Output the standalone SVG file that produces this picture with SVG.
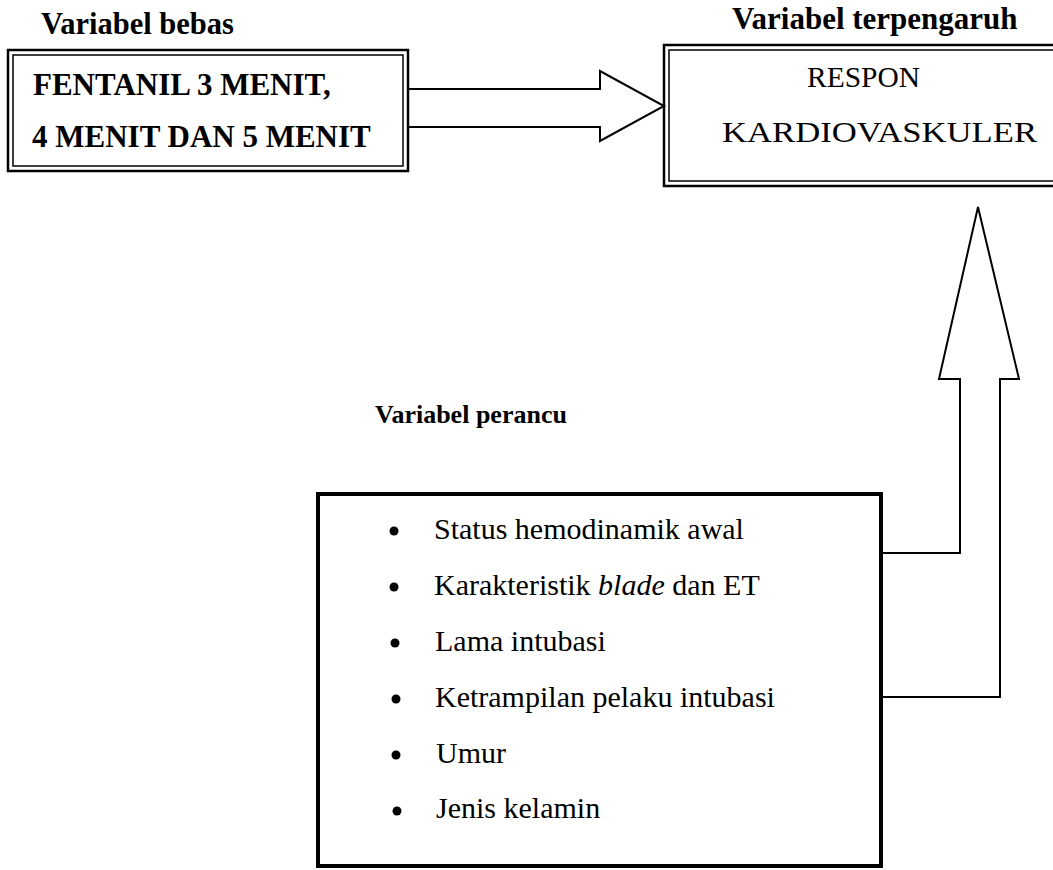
<svg xmlns="http://www.w3.org/2000/svg" width="1053" height="870" viewBox="0 0 1053 870">
<style>
.hb{font-family:"Liberation Serif","Times New Roman",serif;font-weight:bold;fill:#000}
.t{font-family:"Liberation Serif","Times New Roman",serif;fill:#000}
.ln{fill:none;stroke:#000}
</style>
<rect width="1053" height="870" fill="#fff"/>
<g id="label-bebas"><text class="hb" x="41" y="34" font-size="30.5">Variabel bebas</text></g>
<g id="node-fentanil">
<rect class="ln" x="8" y="50" width="400" height="121" stroke-width="2.5"/>
<rect class="ln" x="13" y="55" width="390" height="111" stroke-width="1.5"/>
<text class="hb" x="33" y="95" font-size="31">FENTANIL 3 MENIT,</text>
<text class="hb" x="32" y="147" font-size="31">4 MENIT DAN 5 MENIT</text>
</g>
<g id="label-terpengaruh"><text class="hb" x="732" y="29" font-size="31">Variabel terpengaruh</text></g>
<g id="node-respon">
<rect class="ln" x="664" y="45" width="400" height="141" stroke-width="2.5"/>
<rect class="ln" x="669" y="50" width="395" height="131" stroke-width="1.5"/>
<text class="t" x="807" y="87" font-size="29.5" textLength="113" lengthAdjust="spacingAndGlyphs">RESPON</text>
<text class="t" x="722" y="142" font-size="29.5" textLength="315" lengthAdjust="spacingAndGlyphs">KARDIOVASKULER</text>
</g>
<g id="label-perancu"><text class="hb" x="375" y="423" font-size="26">Variabel perancu</text></g>
<g id="node-perancu">
<rect class="ln" x="318" y="494" width="563" height="372" stroke-width="4"/>
<g fill="#000">
<circle cx="394" cy="531" r="4.5"/>
<circle cx="394" cy="587" r="4.5"/>
<circle cx="395" cy="643" r="4.5"/>
<circle cx="396" cy="699" r="4.5"/>
<circle cx="396" cy="755" r="4.5"/>
<circle cx="397" cy="811" r="4.5"/>
</g>
<text class="t" x="434" y="539" font-size="30">Status hemodinamik awal</text>
<text class="t" x="434" y="595" font-size="30">Karakteristik <tspan font-style="italic">blade</tspan> dan ET</text>
<text class="t" x="435" y="651" font-size="30">Lama intubasi</text>
<text class="t" x="435" y="707" font-size="30">Ketrampilan pelaku intubasi</text>
<text class="t" x="436" y="763" font-size="30">Umur</text>
<text class="t" x="436" y="818" font-size="30">Jenis kelamin</text>
</g>
<g id="connectors">
<path class="ln" stroke-width="2" d="M408,89 H600 V71 L664,106 L600,141 V127 H408"/>
<path class="ln" stroke-width="2" d="M881,553 H960 V379 H939 L978,207 L1019,379 H1000 V697 H881"/>
</g>
</svg>
